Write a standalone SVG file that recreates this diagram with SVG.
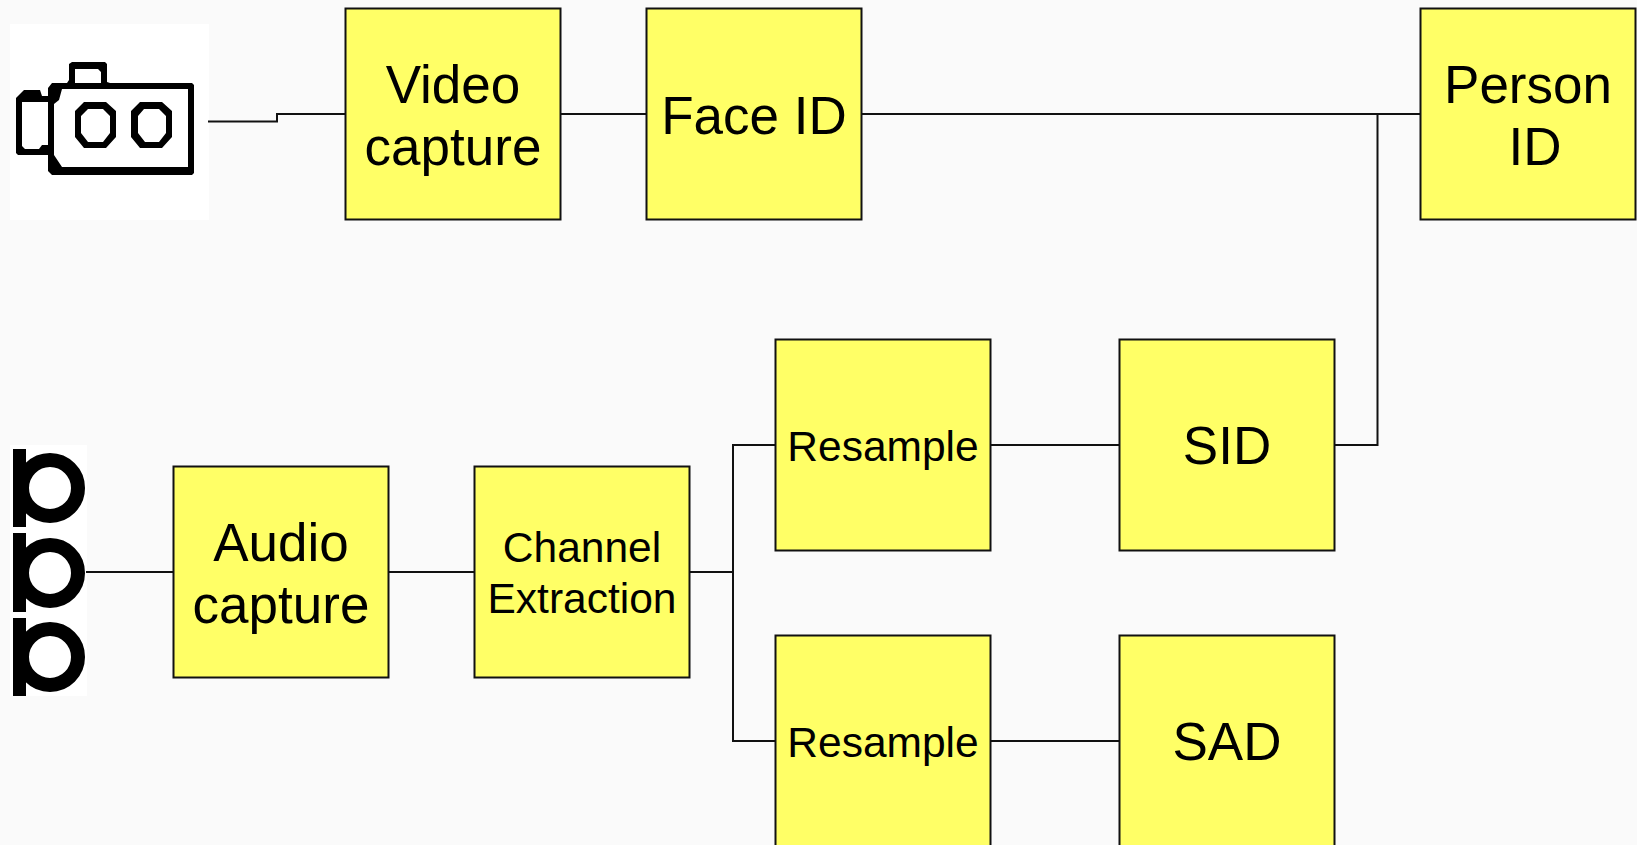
<svg xmlns="http://www.w3.org/2000/svg" width="1637" height="845" viewBox="0 0 1637 845">
<style>
.box{fill:#ffff66;stroke:#111;stroke-width:2}
.c{fill:none;stroke:#111;stroke-width:2}
text{font-family:"Liberation Sans",Arial,sans-serif;fill:#000;text-anchor:middle}
.t{font-size:53px}
.s{font-size:42.500px}
</style>
<rect width="1637" height="845" fill="#fafafa"/>
<g id="camera-icon">
<rect x="10" y="24" width="199" height="196" fill="#fff"/>
<path fill-rule="evenodd" d="M72 62H105L107 64V82L110 83H192L194 85V173L192 175H52L48 171V155H18L16 153V98L24 90H40L42 96H48V88L52 83H67L69 80V64ZM75 69V83H101V72L98 69ZM62 89L59 100L54 104V155L62 167H188V89ZM22 102V146L25 149H39L42 145H48V102Z"/>
<path fill-rule="evenodd" d="M84 102H106L116 111V137L106 148H84L75 137V111ZM88 109L81 116V133L88 142H103L110 133V116L103 109Z"/>
<path fill-rule="evenodd" d="M140 102H162L172 111V137L162 148H140L131 137V111ZM144 109L138 116V133L145 142H159L166 133V116L159 109Z"/>
</g>
<g id="mic-icon">
<rect x="10" y="445" width="77" height="251" fill="#fff"/>
<g id="mic-glyphs">
<rect x="13" y="449" width="13" height="78" fill="#000"/><circle cx="50" cy="488" r="28" fill="#fff" stroke="#000" stroke-width="14"/>
<rect x="13" y="533" width="13" height="79" fill="#000"/><circle cx="50" cy="573" r="28" fill="#fff" stroke="#000" stroke-width="14"/>
<rect x="13" y="618" width="13" height="78" fill="#000"/><circle cx="50" cy="657" r="28" fill="#fff" stroke="#000" stroke-width="14"/>
</g>
</g>
<g id="connectors">
<path class="c" d="M208 121.500H277V114H345"/>
<path class="c" d="M560 114H646"/>
<path class="c" d="M861 114H1421"/>
<path class="c" d="M1334 445H1377.500V114"/>
<path class="c" d="M86 572H173"/>
<path class="c" d="M388 572H474"/>
<path class="c" d="M689 572H733"/>
<path class="c" d="M775 445H733V741H775"/>
<path class="c" d="M990 445H1119"/>
<path class="c" d="M990 741H1119"/>
</g>
<g id="video-capture"><rect class="box" x="345.500" y="8.500" width="215" height="211"/><text class="t" x="453" y="103">Video</text><text class="t" x="453" y="165">capture</text></g>
<g id="face-id"><rect class="box" x="646.500" y="8.500" width="215" height="211"/><text class="t" x="754" y="134">Face ID</text></g>
<g id="person-id"><rect class="box" x="1420.500" y="8.500" width="215" height="211"/><text class="t" x="1528" y="103">Person</text><text class="t" x="1535" y="165">ID</text></g>
<g id="audio-capture"><rect class="box" x="173.500" y="466.500" width="215" height="211"/><text class="t" x="281" y="561">Audio</text><text class="t" x="281" y="623">capture</text></g>
<g id="channel-extraction"><rect class="box" x="474.500" y="466.500" width="215" height="211"/><text class="s" x="582" y="562">Channel</text><text class="s" x="582" y="613">Extraction</text></g>
<g id="resample-1"><rect class="box" x="775.500" y="339.500" width="215" height="211"/><text class="s" x="883" y="461">Resample</text></g>
<g id="sid"><rect class="box" x="1119.500" y="339.500" width="215" height="211"/><text class="t" x="1227" y="464">SID</text></g>
<g id="resample-2"><rect class="box" x="775.500" y="635.500" width="215" height="211"/><text class="s" x="883" y="757">Resample</text></g>
<g id="sad"><rect class="box" x="1119.500" y="635.500" width="215" height="211"/><text class="t" x="1227" y="760">SAD</text></g>
</svg>
